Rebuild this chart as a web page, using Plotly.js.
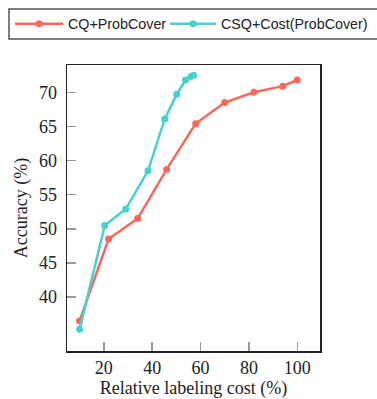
<!DOCTYPE html>
<html>
<head>
<meta charset="utf-8">
<script src="https://cdn.plot.ly/plotly-3.0.1.min.js"></script>
<style>html,body{margin:0;padding:0;background:#fff;}#chart{width:377px;height:399px;}</style>
</head>
<body>
<div id="chart"></div>
<script>
const seriesNames = ["CQ+ProbCover", "CSQ+Cost(ProbCover)"];
const cqCost = [10, 22, 34, 46, 58, 70, 82, 94, 100];
const cqAcc = [36.5, 48.5, 51.5, 58.7, 65.4, 68.5, 70.0, 70.9, 71.8];
const csqCost = [10, 20.4, 29.1, 38.3, 45.2, 50.2, 53.8, 56.0, 57.2];
const csqAcc = [35.3, 50.5, 52.9, 58.5, 66.1, 69.7, 71.8, 72.3, 72.5];
const xTicks = [20, 40, 60, 80, 100];
const yTicks = [40, 45, 50, 55, 60, 65, 70];

const red = "#f9695b";
const teal = "#48d1cc";

const traces = [
  {x: cqCost, y: cqAcc, name: seriesNames[0], mode: "lines+markers", legend: "legend",
   line: {color: red, width: 2.5}, marker: {color: red, size: 7}},
  {x: csqCost, y: csqAcc, name: seriesNames[1], mode: "lines+markers", legend: "legend2",
   line: {color: teal, width: 2.5}, marker: {color: teal, size: 7}}
];

const W = 377, H = 399;
const M = {l: 67, r: 57, t: 65, b: 48};
const pw = W - M.l - M.r, ph = H - M.t - M.b;
const px2paperX = p => (p - M.l) / pw;
const px2paperY = p => (H - M.b - p) / ph;

const serif = "'Liberation Serif', 'Times New Roman', serif";
const sans = "'Liberation Sans', Arial, sans-serif";
const legFont = {family: sans, size: 14.3, color: "#222"};
const layout = {
  width: W, height: H,
  margin: M,
  paper_bgcolor: "#fff", plot_bgcolor: "#fff",
  showlegend: true,
  legend: {
    orientation: "h", xref: "container", yref: "container",
    x: 10 / W, y: 1 - 24 / H, xanchor: "left", yanchor: "middle",
    bgcolor: "rgba(0,0,0,0)", borderwidth: 0, font: legFont, itemwidth: 48
  },
  legend2: {
    orientation: "h", xref: "container", yref: "container",
    x: 165 / W, y: 1 - 24 / H, xanchor: "left", yanchor: "middle",
    bgcolor: "rgba(0,0,0,0)", borderwidth: 0, font: legFont, itemwidth: 46
  },
  shapes: [{
    type: "rect", xref: "paper", yref: "paper",
    x0: px2paperX(9), x1: px2paperX(380), y0: px2paperY(39), y1: px2paperY(9),
    line: {color: "#555", width: 1.5}, fillcolor: "rgba(0,0,0,0)", layer: "above"
  }],
  xaxis: {
    range: [4.8, 109.4], tickvals: xTicks, ticktext: xTicks.map(String),
    ticks: "inside", ticklen: 9, tickwidth: 1.5, tickcolor: "#999",
    showline: true, linecolor: "#222", linewidth: 1.5, mirror: true,
    showgrid: false, zeroline: false,
    tickfont: {family: serif, size: 18, color: "#222"},
    title: {text: "Relative labeling cost (%)", font: {family: serif, size: 18, color: "#222"}, standoff: 4}
  },
  yaxis: {
    range: [32.1, 74.0], tickvals: yTicks, ticktext: yTicks.map(String),
    ticks: "inside", ticklen: 9, tickwidth: 1.5, tickcolor: "#999",
    ticklabelstandoff: 5,
    showline: true, linecolor: "#222", linewidth: 1.5, mirror: true,
    showgrid: false, zeroline: false,
    tickfont: {family: serif, size: 18, color: "#222"},
    title: {text: "Accuracy (%)", font: {family: serif, size: 18, color: "#222"}, standoff: 6}
  }
};

Plotly.newPlot("chart", traces, layout, {displayModeBar: false, staticPlot: true});
</script>
</body>
</html>
